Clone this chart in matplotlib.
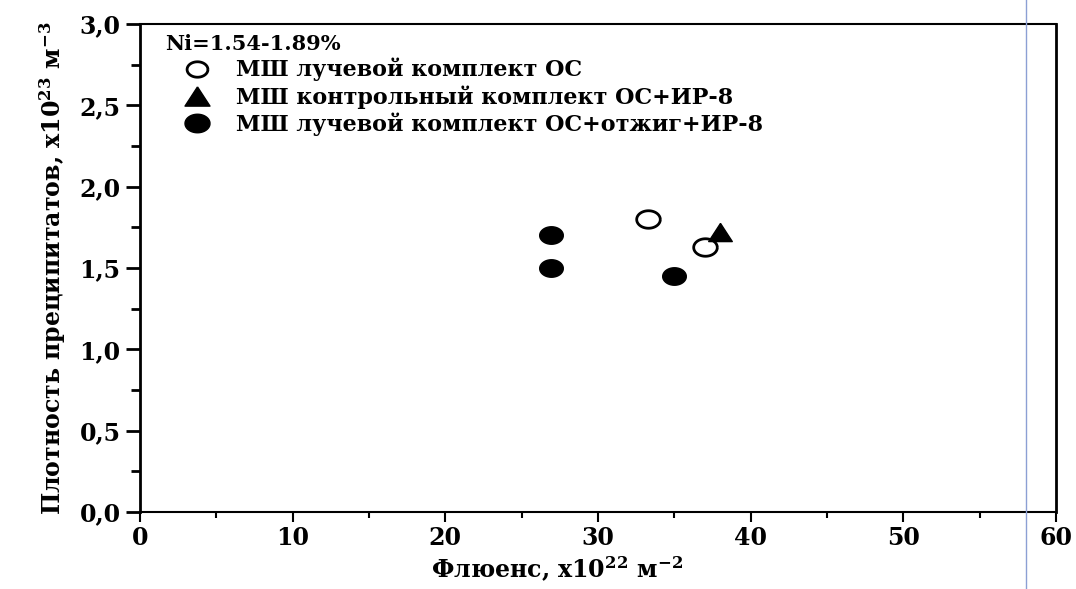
import matplotlib
matplotlib.use('Agg')
import matplotlib.pyplot as plt
import numpy as np
from matplotlib.lines import Line2D
from matplotlib.ticker import FuncFormatter, MultipleLocator

plt.rcParams['font.family'] = ['DejaVu Serif']
plt.rcParams['font.weight'] = 'bold'
plt.rcParams['axes.labelweight'] = 'bold'
plt.rcParams['mathtext.fontset'] = 'dejavuserif'
plt.rcParams['mathtext.default'] = 'bf'

# data
open_x = [33.3, 37.0]
open_y = [1.80, 1.63]
tri_x = [38.0]
tri_y = [1.72]
fill_x = [26.9, 26.9, 35.0]
fill_y = [1.70, 1.50, 1.45]

labels = ['МШ лучевой комплект ОС',
          'МШ контрольный комплект ОС+ИР-8',
          'МШ лучевой комплект ОС+отжиг+ИР-8']
legend_title = 'Ni=1.54-1.89%'
x_label = r'Флюенс, x10$^{22}$ м$^{-2}$'
y_label = r'Плотность преципитатов, x10$^{23}$ м$^{-3}$'

# the scan is stretched sideways, so the markers come out wide
t = np.linspace(0, 2 * np.pi, 64)
ellipse = np.column_stack([1.35 * np.cos(t), np.sin(t)])
wide_tri = np.array([[0, 1], [-1.3, -1], [1.3, -1], [0, 1]])

fig = plt.figure(figsize=(10.76, 5.89), dpi=100)
ax = fig.add_axes([0.1301, 0.1307, 0.8513, 0.8286])

ax.plot(open_x, open_y, ls='none', marker=ellipse, ms=17, mfc='white', mec='black', mew=2)
ax.plot(tri_x, tri_y, ls='none', marker=wide_tri, ms=17, color='black')
ax.plot(fill_x, fill_y, ls='none', marker=ellipse, ms=17, color='black')

ax.set_xlim(0, 60)
ax.set_ylim(0, 3.0)
ax.xaxis.set_major_locator(MultipleLocator(10))
ax.xaxis.set_minor_locator(MultipleLocator(5))
ax.yaxis.set_major_locator(MultipleLocator(0.5))
ax.yaxis.set_minor_locator(MultipleLocator(0.25))
ax.yaxis.set_major_formatter(FuncFormatter(lambda v, p: ('%.1f' % v).replace('.', ',')))

ax.tick_params(axis='x', which='major', direction='out', length=7, width=1.5, labelsize=17, pad=3)
ax.tick_params(axis='x', which='minor', direction='out', length=4, width=1.5)
ax.tick_params(axis='y', which='major', direction='out', length=10, width=2, labelsize=17, pad=4)
ax.tick_params(axis='y', which='minor', direction='out', length=6.5, width=2)
ax.tick_params(top=False, right=False)
for side in ['left', 'right']:
    ax.spines[side].set_linewidth(2)
for side in ['top', 'bottom']:
    ax.spines[side].set_linewidth(1.5)

ax.set_xlabel(x_label, fontsize=17)
ax.xaxis.set_label_coords(0.455, -0.088)
ax.set_ylabel(y_label, fontsize=17, labelpad=8)

handles = [
    Line2D([], [], ls='none', marker=ellipse, ms=15, mfc='white', mec='black', mew=2),
    Line2D([], [], ls='none', marker=wide_tri, ms=18, color='black'),
    Line2D([], [], ls='none', marker=ellipse, ms=18, color='black'),
]
leg = ax.legend(handles, labels, loc='upper left', bbox_to_anchor=(0.015, 1.002),
                frameon=False, fontsize=16, title=legend_title,
                title_fontproperties={'size': 15, 'weight': 'bold'},
                alignment='left', handletextpad=0.3, labelspacing=0.17,
                borderaxespad=0.0, handlelength=2.9, borderpad=0.5)

# stray blue vertical line seen in the original scan
fig.add_artist(Line2D([0.9533, 0.9533], [0, 1], transform=fig.transFigure,
                      color='#8c9fd4', lw=1))

fig.savefig('out.png', dpi=100)
